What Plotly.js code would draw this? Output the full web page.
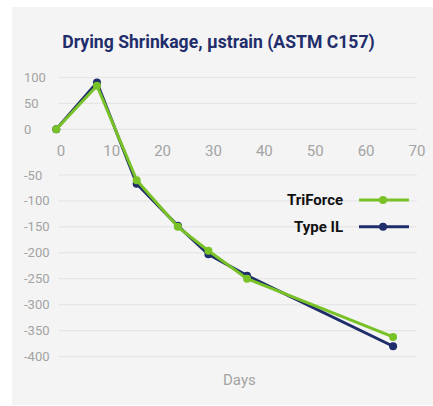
<!DOCTYPE html>
<html>
<head>
<meta charset="utf-8">
<script src="https://cdn.plot.ly/plotly-3.0.1.min.js"></script>
<style>
  html, body { margin: 0; padding: 0; background: #ffffff; }
  #chart { position: absolute; left: 12px; top: 7px; width: 421px; height: 398px; }
</style>
</head>
<body>
<div id="chart"></div>
<script>
// ---- data ----
const days = [-0.9, 7.1, 14.9, 23.0, 29.0, 36.6, 65.3];
const triForce = [0, 84, -60, -150, -196, -250, -362];
const typeIL = [0, 90, -67, -148, -203, -244, -380];
const seriesNames = ["TriForce", "Type IL"];
const seriesColors = ["#78c126", "#1f2d6b"];
const yTickValues = [100, 50, 0, -50, -100, -150, -200, -250, -300, -350, -400];
const yTickLabels = ["100", "50", "0", "-50", "-100", "-150", "-200", "-250", "-300", "-350", "-400"];
const xTickValues = [0, 10, 20, 30, 40, 50, 60, 70];
const xTickLabels = ["0", "10", "20", "30", "40", "50", "60", "70"];
const xTitle = "Days";
const chartTitle = "Drying Shrinkage, µstrain (ASTM C157)";

// The y axis has an extra gap between 0 and -50 where the x tick labels sit.
const GAP = 38;
const toPlot = v => (v < 0 ? v - GAP : v);

const yLo = toPlot(-400) - 20, yHi = 100 + 20;
const xPos = (0 - yLo) / (yHi - yLo);
const xLo = -1.2, xHi = 70, gridStart = -0.5;

const grey = "#a3a3a3";
const font = "Roboto, 'Noto Sans', sans-serif";

const traces = [
  {
    x: days, y: typeIL.map(toPlot), name: seriesNames[1], mode: "lines+markers",
    line: { color: seriesColors[1], width: 3 }, marker: { color: seriesColors[1], size: 8 },
    cliponaxis: false, showlegend: false, hoverinfo: "skip"
  },
  {
    x: days, y: triForce.map(toPlot), name: seriesNames[0], mode: "lines+markers",
    line: { color: seriesColors[0], width: 3 }, marker: { color: seriesColors[0], size: 8 },
    cliponaxis: false, showlegend: false, hoverinfo: "skip"
  },
  { x: [], y: [], yaxis: "y2", showlegend: false, hoverinfo: "skip" }
];

const shapes = [], annotations = [];
// horizontal gridlines at the y ticks
yTickValues.forEach(v => {
  shapes.push({ type: "line", xref: "x", yref: "y", layer: "below",
    x0: gridStart, x1: xHi, y0: toPlot(v), y1: toPlot(v),
    line: { color: "#e2e2e2", width: 1 } });
});
// legend built from shapes + annotations (symbol to the right of the text)
const legRows = [0.5565, 0.4678];
[0, 1].forEach(i => {
  shapes.push({ type: "line", xref: "paper", yref: "paper", x0: 0.8539, x1: 0.9798,
    y0: legRows[i], y1: legRows[i], line: { color: seriesColors[i], width: 3 } });
  shapes.push({ type: "circle", xref: "paper", yref: "paper", xsizemode: "pixel", ysizemode: "pixel",
    xanchor: 0.9144, yanchor: legRows[i], x0: -4, x1: 4, y0: -4, y1: 4,
    fillcolor: seriesColors[i], line: { width: 0 } });
  annotations.push({ xref: "paper", yref: "paper", x: 0.8136, y: legRows[i], xanchor: "right",
    yanchor: "middle", showarrow: false, text: "<b>" + seriesNames[i] + "</b>",
    borderpad: 0, borderwidth: 0,
    font: { family: font, size: 15, color: "#111111" } });
});
annotations.push({ xref: "paper", yref: "paper", x: 0.554, y: -0.0442, xanchor: "center",
  yanchor: "middle", showarrow: false, text: xTitle,
  font: { family: font, size: 15, color: grey } });

// x domain chosen so that the gridlines start where they do in the reference
const pxPerDay = 358.4 / 70.5;
const domStart = (46.3 - 8 - (gridStart - xLo) * pxPerDay) / 397;

const layout = {
  width: 421, height: 398,
  paper_bgcolor: "#f4f4f4", plot_bgcolor: "#f4f4f4",
  margin: { l: 8, r: 16, t: 59.6, b: 37.6 },
  showlegend: false,
  title: {
    text: "<b>" + chartTitle + "</b>",
    font: { family: font, size: 17.6, color: "#1f2d6b" },
    x: 0.5, xanchor: "center", y: 1 - 34.7 / 398, yanchor: "middle", xref: "paper"
  },
  xaxis: {
    domain: [domStart, 1], range: [xLo, xHi], anchor: "free", position: xPos,
    tickvals: xTickValues, ticktext: xTickLabels,
    showgrid: false, zeroline: false, showline: false, ticks: "",
    ticklabelstandoff: 11,
    tickfont: { family: font, size: 15, color: grey }
  },
  yaxis: {
    domain: [0, 1], range: [yLo, yHi],
    showticklabels: false, showgrid: false, zeroline: false, showline: false
  },
  yaxis2: {
    overlaying: "y", anchor: "free", position: 0, side: "left", range: [yLo, yHi],
    tickvals: yTickValues.map(toPlot), ticktext: yTickLabels,
    ticklabelposition: "inside", showgrid: false, zeroline: false, showline: false, ticks: "",
    tickfont: { family: font, size: 13, color: grey }
  },
  shapes: shapes,
  annotations: annotations
};

Plotly.newPlot("chart", traces, layout, { displayModeBar: false, staticPlot: true });
</script>
</body>
</html>
